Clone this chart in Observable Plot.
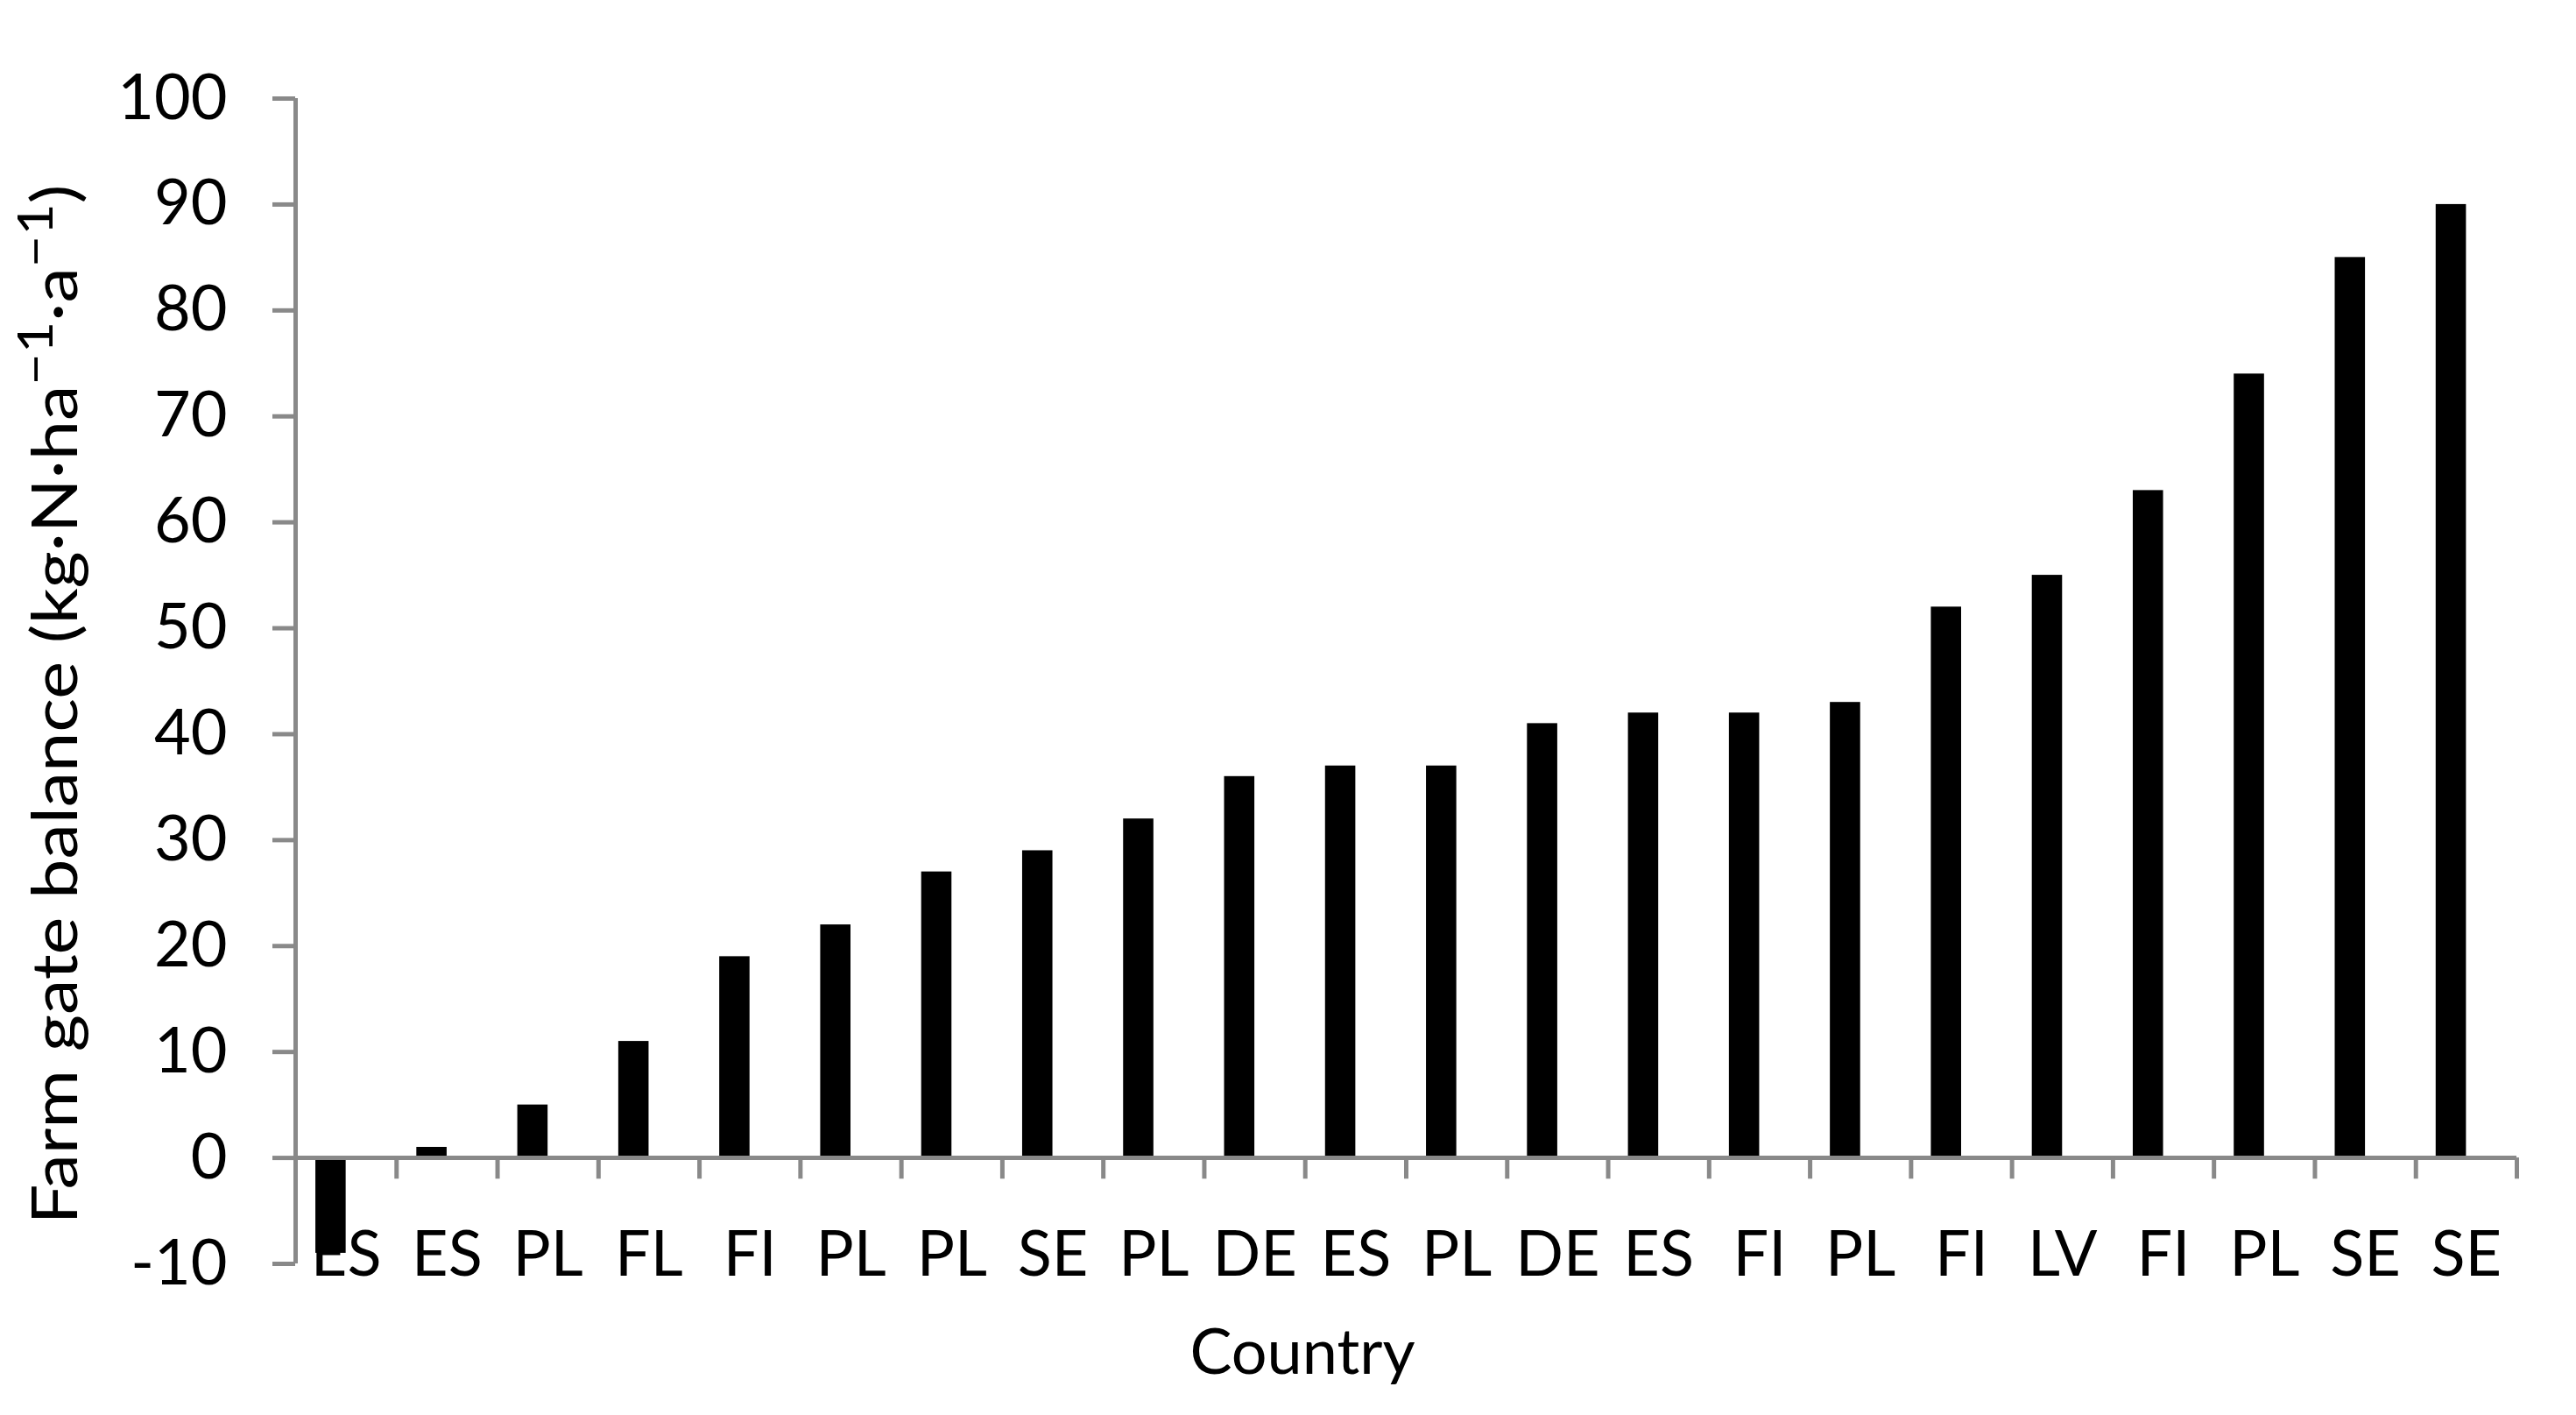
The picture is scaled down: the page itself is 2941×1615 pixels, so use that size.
<!DOCTYPE html>
<html><head><meta charset="utf-8">
<script src="https://cdn.jsdelivr.net/npm/d3@7"></script>
<script src="https://cdn.jsdelivr.net/npm/@observablehq/plot@0.6"></script>
<style>html,body{margin:0;padding:0;background:#fff} svg{display:block}</style>
</head><body><div id="chart"></div>
<script>
const countries = ["ES","ES","PL","FL","FI","PL","PL","SE","PL","DE","ES","PL","DE","ES","FI","PL","FI","LV","FI","PL","SE","SE"];
const balances = [-9,1,5,11,19,22,27,29,32,36,37,37,41,42,42,43,52,55,63,74,85,90];
const yTicks = [-10,0,10,20,30,40,50,60,70,80,90,100];
const xTitle = "Country";
const yTitleParts = [["Farm gate balance (kg·N·ha", false], ["−1", true], ["·a", false], ["−1", true], [")", false]];

const data = countries.map((c, i) => ({i, country: c, value: balances[i]}));
const boundaries = d3.range(1, countries.length + 1);

const font = "Lato, 'Open Sans', sans-serif";
const grey = "#898989";
const fs = 72;

const chart = Plot.plot({
  width: 2941, height: 1615,
  marginLeft: 337, marginRight: 68, marginTop: 112, marginBottom: 173,
  style: {fontFamily: font, background: "#fff", color: "black"},
  x: {type: "linear", domain: [0, countries.length], axis: null},
  y: {domain: [-10, 100], axis: null},
  marks: [
    Plot.text(data, {x: d => d.i + 0.5, frameAnchor: "bottom", text: "country", fontSize: fs, lineAnchor: "middle", dy: -10, fill: "black"}),
    Plot.rect(data, {x1: d => d.i + 0.2, x2: d => d.i + 0.5, y1: () => 0, y2: "value", fill: "black"}),
    Plot.ruleY([0], {stroke: grey, strokeWidth: 5}),
    Plot.ruleX([0], {y1: -10, y2: 100, stroke: grey, strokeWidth: 5}),
    Plot.ruleX(boundaries, {y1: 0, y2: -2, stroke: grey, strokeWidth: 5}),
    Plot.axisY(yTicks, {tickSize: 26, tickPadding: 52, fontSize: fs, stroke: grey, strokeWidth: 5, color: "black", label: null, tickFormat: d => String(d)})
  ]
});
document.getElementById("chart").appendChild(chart);

const svg = d3.select(chart);
const yt = svg.append("text")
  .attr("transform", "translate(60,804) rotate(-90)")
  .attr("text-anchor", "middle")
  .attr("dominant-baseline", "central")
  .attr("font-family", font)
  .attr("font-size", fs)
  .attr("fill", "black")
  .attr("textLength", 1187)
  .attr("lengthAdjust", "spacingAndGlyphs");
let raised = false;
for (const [t, sup] of yTitleParts) {
  const ts = yt.append("tspan").text(t);
  if (sup) { ts.attr("font-size", 56).attr("dy", raised ? 0 : -22); raised = true; }
  else if (raised) { ts.attr("dy", 22); raised = false; }
}
svg.append("text")
  .attr("x", 1487).attr("y", 1568)
  .attr("text-anchor", "middle")
  .attr("font-family", font)
  .attr("font-size", fs)
  .attr("fill", "black")
  .text(xTitle);
</script>
</body></html>
